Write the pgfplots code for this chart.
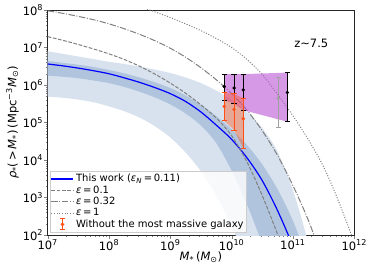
\documentclass[border=0pt]{standalone}
\usepackage{fontspec}
\setmainfont{DejaVu Sans}
\usepackage{pgfplots}
\usepackage{pgfplotstable}
\pgfplotsset{compat=1.18}
\definecolor{bandlight}{RGB}{216,226,239}
\definecolor{banddark}{RGB}{176,196,222}
\definecolor{mblue}{RGB}{0,0,255}
\definecolor{mgray}{RGB}{128,128,128}
\definecolor{oranger}{RGB}{255,80,20}
\definecolor{purpfill}{RGB}{186,85,211}
\definecolor{ebgray}{RGB}{160,160,160}
\newcommand{\lstrut}{\rule[-2pt]{0pt}{7.6pt}}

% log10(M) and log10(rho) read from the figure
\pgfplotstableread{
lm    blue  dash  dd
7.00  6.56  7.29  7.98
7.25  6.51  7.19  7.91
7.50  6.45  7.08  7.83
7.75  6.38  6.96  7.74
8.00  6.30  6.83  7.63
8.25  6.19  6.68  7.50
8.50  6.07  6.50  7.35
8.75  5.93  6.29  7.18
9.00  5.77  6.05  6.98
9.25  5.56  5.78  6.74
9.50  5.28  5.47  6.46
9.75  4.93  5.12  6.14
10.00 4.55  4.65  5.77
10.25 4.06  3.95  5.33
10.50 3.45  3.05  4.78
10.75 2.65  2.02  4.12
11.00 1.70  0.90  3.32
11.25 0.60  -0.4  2.40
11.50 -0.6  -2.0  1.30
}\curves

\pgfplotstableread{
lm    lr
8.50  8.10
8.75  7.95
9.00  7.80
9.25  7.63
9.50  7.45
9.75  7.24
10.00 7.00
10.25 6.68
10.50 6.28
10.75 5.75
11.00 5.18
11.25 4.55
11.50 3.82
11.75 2.88
12.00 1.80
}\dotted

% 2-sigma band: upper edge, then lower edge backwards
\pgfplotstableread{
lm    lr
6.75  6.96
7.00  6.90
7.25  6.83
7.50  6.76
7.75  6.69
8.00  6.62
8.25  6.56
8.50  6.49
8.75  6.41
9.00  6.32
9.25  6.20
9.50  6.05
9.75  5.85
10.00 5.60
10.25 5.28
10.50 4.85
10.75 4.22
11.00 3.20
11.25 1.80
11.50 0.20
10.50 0.00
10.25 1.20
10.00 2.25
9.75  3.05
9.50  3.70
9.25  4.20
9.00  4.60
8.75  4.90
8.50  5.13
8.25  5.30
8.00  5.43
7.75  5.54
7.50  5.61
7.25  5.66
7.00  5.69
6.75  5.72
}\lightband

% 1-sigma band
\pgfplotstableread{
lm    lr
6.75  6.69
7.00  6.64
7.25  6.59
7.50  6.54
7.75  6.48
8.00  6.40
8.25  6.31
8.50  6.20
8.75  6.07
9.00  5.92
9.25  5.72
9.50  5.47
9.75  5.17
10.00 4.82
10.25 4.40
10.50 3.88
10.75 3.22
11.00 2.38
11.25 1.30
11.50 0.00
10.75 0.50
10.50 1.75
10.25 2.82
10.00 3.72
9.75  4.45
9.50  4.92
9.25  5.24
9.00  5.48
8.75  5.67
8.50  5.82
8.25  5.95
8.00  6.05
7.75  6.12
7.50  6.18
7.25  6.22
7.00  6.25
6.75  6.28
}\darkband

\pgfplotstableread{
lm    ly    lo    hi
9.88  5.96  5.60  6.29
10.04 5.92  5.50  6.29
10.19 5.87  5.33  6.29
10.91 5.80  5.02  6.33
}\blackpts

\pgfplotstableread{
lm    ly    lo    hi
10.76 5.65  4.88  6.20
}\graypts

\pgfplotstableread{
lm    ly    lo    hi
9.88  5.43  5.04  5.80
10.04 5.35  4.80  5.76
10.19 5.10  4.30  5.65
}\orangepts

\pgfplotstableread{
lm    lr
9.88  6.29
10.04 6.29
10.19 6.29
10.91 6.33
10.91 5.02
10.19 5.33
10.04 5.50
9.88  5.60
}\purplepoly

\pgfplotstableread{
lm    lr
9.88  5.80
10.04 5.76
10.19 5.65
10.19 4.30
10.04 4.80
9.88  5.04
}\orangepoly

\begin{document}
\fontsize{11.5pt}{13pt}\selectfont
\begin{tikzpicture}
\begin{axis}[
  at={(0,0)}, anchor=south west,
  width=306.5pt, height=225pt, scale only axis,
  xmode=log, ymode=log,
  xmin=1e7, xmax=1e12, ymin=1e2, ymax=1e8,
  xtick={1e7,1e8,1e9,1e10,1e11,1e12},
  xticklabels={10\textsuperscript{7},10\textsuperscript{8},10\textsuperscript{9},10\textsuperscript{10},10\textsuperscript{11},10\textsuperscript{12}},
  ytick={1e2,1e3,1e4,1e5,1e6,1e7,1e8},
  yticklabels={10\textsuperscript{2},10\textsuperscript{3},10\textsuperscript{4},10\textsuperscript{5},10\textsuperscript{6},10\textsuperscript{7},10\textsuperscript{8}},
  tick align=outside, xtick pos=bottom, ytick pos=left,
  major tick length=3.5pt, minor tick length=2pt,
  axis line style={line width=0.8pt, black!85},
  tick label style={font=\fontsize{11.5pt}{13pt}\selectfont},
  xticklabel style={inner sep=1pt},
  yticklabel style={inner sep=1pt},
  every axis y label/.style={at={(axis description cs:-0.115,0.5)}, rotate=90, anchor=center},
  every axis x label/.style={at={(axis description cs:0.5,-0.1)}, anchor=center},
  xlabel={\textit{M}\textsubscript{*}\,(\textit{M}\textsubscript{⊙})},
  ylabel={\textit{ρ}\textsubscript{*}(\,>\,\textit{M}\textsubscript{*})\,(Mpc\textsuperscript{−3}\textit{M}\textsubscript{⊙})},
  legend cell align=left,
  legend image code/.code={\draw[#1] (0pt,0pt) -- (22pt,0pt);},
  legend style={at={(0.008,0.013)}, anchor=south west,
    draw=black!20, fill=white, fill opacity=0.8, text opacity=1,
    font=\fontsize{10pt}{12pt}\selectfont,
    inner xsep=0.5pt, inner ysep=0.8pt, row sep=-1.8pt},
]
% bands
\addplot[fill=bandlight, draw=none, smooth, forget plot] table[x expr=10^\thisrow{lm}, y expr=10^\thisrow{lr}]{\lightband};
\addplot[fill=banddark, draw=none, smooth, forget plot] table[x expr=10^\thisrow{lm}, y expr=10^\thisrow{lr}]{\darkband};
% lines
\addplot[mblue, line width=1.2pt, smooth] table[x expr=10^\thisrow{lm}, y expr=10^\thisrow{blue}]{\curves};
\addlegendentry{\lstrut This work (\textit{ε}\textsubscript{\textit{N}}\,=\,0.11)}
\addplot[mgray, line width=1pt, dash pattern=on 3.7pt off 1.6pt, smooth] table[x expr=10^\thisrow{lm}, y expr=10^\thisrow{dash}]{\curves};
\addlegendentry{\lstrut\textit{ε}\,=\,0.1}
\addplot[mgray, line width=1pt, dash pattern=on 6.4pt off 1.6pt on 1pt off 1.6pt, smooth] table[x expr=10^\thisrow{lm}, y expr=10^\thisrow{dd}]{\curves};
\addlegendentry{\lstrut\textit{ε}\,=\,0.32}
\addplot[mgray, line width=1pt, dash pattern=on 1pt off 1.65pt, smooth] table[x expr=10^\thisrow{lm}, y expr=10^\thisrow{lr}]{\dotted};
\addlegendentry{\lstrut\textit{ε}\,=\,1}
% data regions
\addplot[fill=purpfill, fill opacity=0.6, draw=none, forget plot] table[x expr=10^\thisrow{lm}, y expr=10^\thisrow{lr}]{\purplepoly};
\addplot[fill=oranger, fill opacity=0.4, draw=none, forget plot] table[x expr=10^\thisrow{lm}, y expr=10^\thisrow{lr}]{\orangepoly};
% error bars
\addplot[black, only marks, mark=*, mark size=1.5pt, forget plot,
  error bars/.cd, y dir=both, y explicit,
  error bar style={line width=1.1pt},
  error mark options={rotate=90, mark size=2.6pt, line width=1pt}]
  table[x expr=10^\thisrow{lm}, y expr=10^\thisrow{ly},
        y error plus expr=10^\thisrow{hi}-10^\thisrow{ly},
        y error minus expr=10^\thisrow{ly}-10^\thisrow{lo}]{\blackpts};
\addplot[ebgray, only marks, mark=*, mark size=1.5pt, forget plot,
  error bars/.cd, y dir=both, y explicit,
  error bar style={line width=1.1pt},
  error mark options={rotate=90, mark size=2.6pt, line width=1pt}]
  table[x expr=10^\thisrow{lm}, y expr=10^\thisrow{ly},
        y error plus expr=10^\thisrow{hi}-10^\thisrow{ly},
        y error minus expr=10^\thisrow{ly}-10^\thisrow{lo}]{\graypts};
\addplot[oranger, only marks, mark=*, mark size=1.5pt, forget plot,
  error bars/.cd, y dir=both, y explicit,
  error bar style={line width=1.1pt},
  error mark options={rotate=90, mark size=2.6pt, line width=1pt}]
  table[x expr=10^\thisrow{lm}, y expr=10^\thisrow{ly},
        y error plus expr=10^\thisrow{hi}-10^\thisrow{ly},
        y error minus expr=10^\thisrow{ly}-10^\thisrow{lo}]{\orangepts};
\addlegendimage{legend image code/.code={
  \draw[oranger, line width=1pt] (11pt,-5.5pt) -- (11pt,5.5pt);
  \draw[oranger, line width=1pt] (8.4pt,-5.5pt) -- (13.6pt,-5.5pt);
  \draw[oranger, line width=1pt] (8.4pt,5.5pt) -- (13.6pt,5.5pt);
  \fill[oranger] (11pt,0pt) circle (1.6pt);}}
\addlegendentry{\lstrut Without the most massive galaxy}
\node[font=\fontsize{11.5pt}{13pt}\selectfont] at (rel axis cs:0.86,0.85) {z\textasciitilde7.5};
\end{axis}
\pgfresetboundingbox
\path[use as bounding box] (-47.7pt,-38pt) rectangle (326.3pt,235pt);
\end{tikzpicture}
\end{document}
